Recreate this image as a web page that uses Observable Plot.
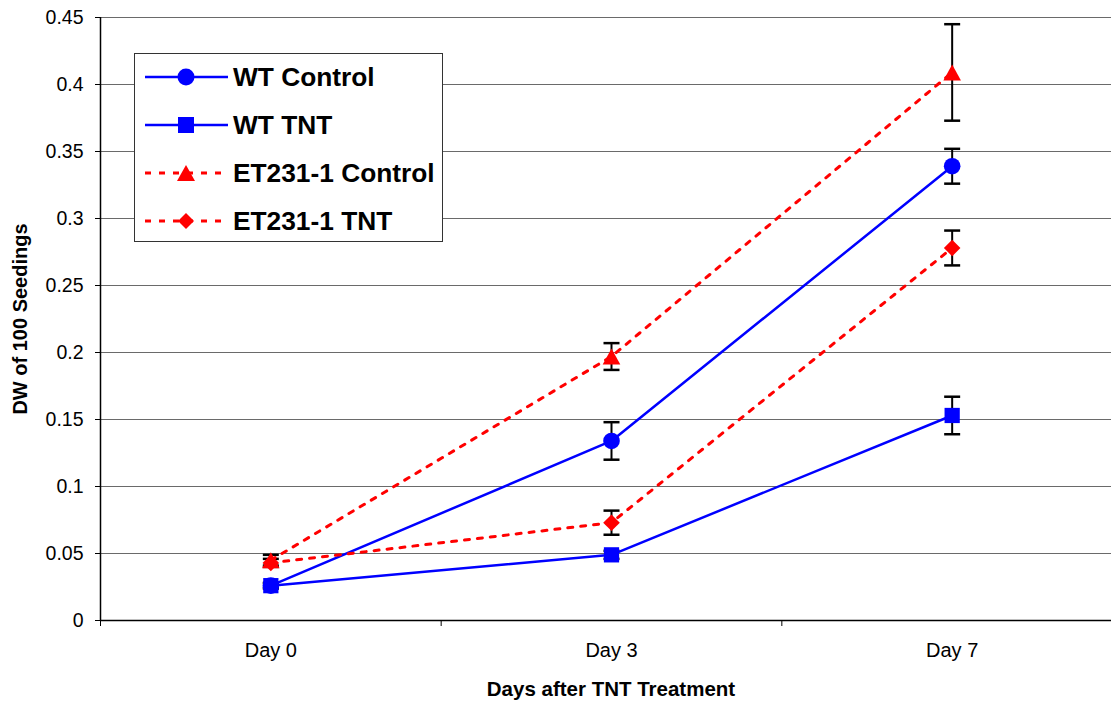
<!DOCTYPE html>
<html><head><meta charset="utf-8">
<script src="https://cdn.jsdelivr.net/npm/d3@7"></script>
<script src="https://cdn.jsdelivr.net/npm/@observablehq/plot@0.6"></script>
<style>
body{margin:0;background:#fff;font-family:"Liberation Sans",Arial,sans-serif;}
#wrap{position:relative;width:1111px;height:702px;overflow:hidden;}
#legend{position:absolute;left:134px;top:53px;width:307px;height:187px;border:1.5px solid #333;background:#fff;}
.row{position:absolute;left:10px;height:30px;display:flex;align-items:center;}
.row span{font-weight:bold;font-size:26.3px;color:#000;margin-left:5px;}
</style></head>
<body><div id="wrap"></div>
<script>
const days = ["Day 0", "Day 3", "Day 7"];
const seriesNames = ["WT Control", "WT TNT", "ET231-1 Control", "ET231-1 TNT"];
const wtControl = [0.026, 0.134, 0.339];
const wtControlErr = [0.002, 0.014, 0.013];
const wtTNT = [0.026, 0.049, 0.153];
const wtTNTErr = [0.002, 0.003, 0.014];
const etControl = [0.045, 0.197, 0.409];
const etControlErr = [0.004, 0.010, 0.036];
const etTNT = [0.043, 0.073, 0.278];
const etTNTErr = [0.003, 0.009, 0.013];
const yTicks = [0, 0.05, 0.1, 0.15, 0.2, 0.25, 0.3, 0.35, 0.4, 0.45];

const values = [wtControl, wtTNT, etControl, etTNT];
const errs = [wtControlErr, wtTNTErr, etControlErr, etTNTErr];
const colors = ["#0000ff", "#0000ff", "#ff0000", "#ff0000"];

const data = [];
seriesNames.forEach((s, i) => days.forEach((d, j) => data.push({
  series: s, si: i, day: d, x: j + 0.5, y: values[i][j],
  lo: values[i][j] - errs[i][j], hi: values[i][j] + errs[i][j]
})));

const cap = {draw(ctx, size) { const r = Math.sqrt(size / Math.PI); ctx.moveTo(-r, 0); ctx.lineTo(r, 0); }};
const tri = {draw(ctx, size) { const r = Math.sqrt(size / Math.PI); ctx.moveTo(0, -r); ctx.lineTo(r * 1.1, r); ctx.lineTo(-r * 1.1, r); ctx.closePath(); }};
const dia = {draw(ctx, size) { const r = Math.sqrt(size / Math.PI); ctx.moveTo(0, -r); ctx.lineTo(r, 0); ctx.lineTo(0, r); ctx.lineTo(-r, 0); ctx.closePath(); }};
const symbols = ["circle", "square", tri, dia];
const sizes = [8.3, 8.6, 8, 8.3];
const drawOrder = [0, 3, 1, 2];

const chart = Plot.plot({
  width: 1111, height: 702,
  marginLeft: 100, marginRight: 0, marginTop: 17, marginBottom: 82,
  style: {color: "#000", background: "#fff", fontFamily: "'Liberation Sans', Arial, sans-serif"},
  x: {domain: [0, 3], range: [100, 1122], axis: null},
  y: {domain: [0, 0.45], axis: null},
  marks: [
    Plot.gridY(yTicks, {stroke: "#6a6a6a", strokeOpacity: 1, strokeWidth: 1}),
    Plot.axisY(yTicks, {tickSize: 5, tickPadding: 12, fontSize: 19.5, tickFormat: d => String(d),
      label: "DW of 100 Seedings", labelAnchor: "center", labelArrow: "none", labelOffset: 88}),
    Plot.ruleX([0], {stroke: "#000", strokeWidth: 1.5}),
    Plot.ruleY([0], {stroke: "#000", strokeWidth: 1.5}),
    Plot.axisX([0, 1, 2], {tickSize: 6, tickFormat: () => "", label: null}),
    Plot.axisX(days.map((d, j) => j + 0.5), {tickSize: 0, tickPadding: 22, fontSize: 20,
      tickFormat: (v, i) => days[i], label: null}),
    Plot.ruleX(data, {x: "x", y1: "lo", y2: "hi", stroke: "#000", strokeWidth: 2}),
    Plot.dot(data, {x: "x", y: "lo", symbol: cap, r: 8, stroke: "#000", strokeWidth: 2.5}),
    Plot.dot(data, {x: "x", y: "hi", symbol: cap, r: 8, stroke: "#000", strokeWidth: 2.5}),
    Plot.line(data.filter(d => d.si < 2), {x: "x", y: "y", z: "series", stroke: "#0000ff", strokeWidth: 2.5}),
    Plot.line(data.filter(d => d.si >= 2), {x: "x", y: "y", z: "series", stroke: "#ff0000", strokeWidth: 3, strokeDasharray: "5,8"}),
    ...drawOrder.map(i => Plot.dot(data.filter(d => d.si === i), {x: "x", y: "y",
      symbol: symbols[i], r: sizes[i], fill: colors[i], stroke: "none"}))
  ]
});
document.getElementById("wrap").appendChild(chart);

const svg = d3.select(chart);
svg.append("text").attr("x", 611).attr("y", 696).attr("text-anchor", "middle")
  .attr("font-weight", "bold").attr("font-size", 20.5)
  .text("Days after TNT Treatment");
svg.selectAll("[aria-label='y-axis label'] text").attr("font-weight", "bold").attr("font-size", 20);

const lg = document.createElement("div");
lg.id = "legend";
const shape = (i) => {
  const c = colors[i];
  if (i === 0) return `<circle cx="41" cy="15" r="8.5" fill="${c}"/>`;
  if (i === 1) return `<rect x="33" y="7" width="16" height="16" fill="${c}"/>`;
  if (i === 2) return `<polygon points="41,7 50,23 32,23" fill="${c}"/>`;
  return `<polygon points="41,7 49,15 41,23 33,15" fill="${c}"/>`;
};
seriesNames.forEach((s, i) => {
  const dash = i >= 2 ? 'stroke-dasharray="6,8" stroke-width="3"' : 'stroke-width="2.5"';
  const row = document.createElement("div");
  row.className = "row";
  row.style.top = (8 + i * 48) + "px";
  row.innerHTML = `<svg width="83" height="30"><line x1="0" y1="15" x2="83" y2="15" stroke="${colors[i]}" ${dash}/>${shape(i)}</svg><span>${s}</span>`;
  lg.appendChild(row);
});
document.getElementById("wrap").appendChild(lg);
</script></body></html>
